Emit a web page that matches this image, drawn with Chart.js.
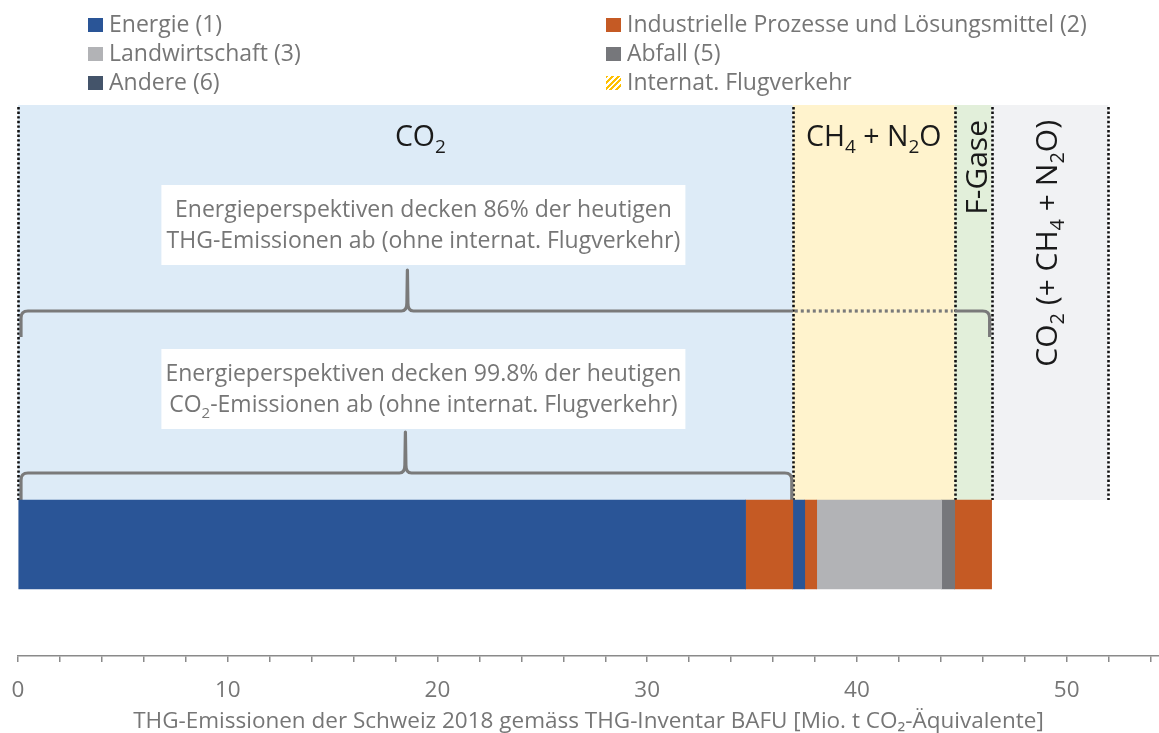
<!DOCTYPE html>
<html lang="de">
<head>
<meta charset="utf-8">
<title>THG-Emissionen der Schweiz 2018</title>
<script src="https://cdn.jsdelivr.net/npm/chart.js@4.4.1/dist/chart.umd.min.js"></script>
<style>
  body { margin: 0; background: #fff; }
  #wrap { position: relative; width: 1159px; height: 733px; }
  #legend {
    position: absolute; left: 88px; top: 9px;
    display: grid; grid-template-columns: 518px auto; grid-auto-rows: 29px;
    font-family: "Open Sans", sans-serif; font-size: 23px; line-height: 29px; color: #767676;
    white-space: nowrap;
  }
  #legend .box { display: inline-block; width: 15px; height: 14px; margin-right: 6px; }
</style>
</head>
<body>
<div id="wrap">
  <canvas id="thgChart" width="1159" height="733"></canvas>
  <div id="legend"></div>
</div>
<script>
const FONT = '"Open Sans", sans-serif';

// bar segments, left to right (Mio. t CO2-Aeq.)
const categories = ['THG 2018'];
const segmentSectors = ['Energie (1)', 'Industrielle Prozesse und Lösungsmittel (2)', 'Energie (1)',
    'Industrielle Prozesse und Lösungsmittel (2)', 'Landwirtschaft (3)', 'Abfall (5)',
    'Industrielle Prozesse und Lösungsmittel (2)'];
const segmentGases = ['CO_2', 'CO_2', 'CH_4 + N_2O', 'CH_4 + N_2O', 'CH_4 + N_2O', 'CH_4 + N_2O', 'F-Gase'];
const segmentValues = [34.69, 2.25, 0.57, 0.57, 5.96, 0.62, 1.76];
const aviationLabel = 'CO_2 (+ CH_4 + N_2O)';
const aviationValue = 5.56;

const legendLabels = ['Energie (1)', 'Industrielle Prozesse und Lösungsmittel (2)', 'Landwirtschaft (3)',
    'Abfall (5)', 'Andere (6)', 'Internat. Flugverkehr'];
const legendColors = ['#2A5597', '#C55A24', '#B2B3B6', '#76777B', '#44546A', 'hatch'];

const gasColors = { 'CO_2': '#DDEBF7', 'CH_4 + N_2O': '#FFF3CD', 'F-Gase': '#E2EFDA' };
const aviationColor = '#F1F2F4';

const notes = [
    ['Energieperspektiven decken 86% der heutigen', 'THG-Emissionen ab (ohne internat. Flugverkehr)'],
    ['Energieperspektiven decken 99.8% der heutigen', 'CO_2-Emissionen ab (ohne internat. Flugverkehr)']
];
const axisTitle = 'THG-Emissionen der Schweiz 2018 gemäss THG-Inventar BAFU [Mio. t CO₂-Äquivalente]';

// legend (two columns)
const legendEl = document.getElementById('legend');
legendLabels.forEach((lbl, i) => {
    const item = document.createElement('div');
    const box = document.createElement('span');
    box.className = 'box';
    box.style.background = legendColors[i] === 'hatch'
        ? 'repeating-linear-gradient(135deg, #FFC000 0 2px, #fff 2px 4px)'
        : legendColors[i];
    item.appendChild(box);
    item.appendChild(document.createTextNode(lbl));
    legendEl.appendChild(item);
});

// text with _n subscripts
function drawRich(ctx, text, x, y, size, align) {
    const parts = text.split(/_(\d)/).map((t, i) => ({ t, sub: i % 2 === 1 })).filter(p => p.t);
    const fontFor = p => (p.sub ? Math.round(size * 0.65) : size) + 'px ' + FONT;
    let w = 0;
    parts.forEach(p => { ctx.font = fontFor(p); p.w = ctx.measureText(p.t).width; w += p.w; });
    let cx = align === 'center' ? x - w / 2 : align === 'right' ? x - w : x;
    ctx.textAlign = 'left';
    ctx.textBaseline = 'alphabetic';
    parts.forEach(p => {
        ctx.font = fontFor(p);
        ctx.fillText(p.t, cx, y + (p.sub ? size * 0.25 : 0));
        cx += p.w;
    });
    return w;
}

function braceSide(ctx, xEnd, yEnd, yLine, dir) {
    // dir = 1 for left end, -1 for right end
    ctx.moveTo(xEnd, yEnd);
    ctx.lineTo(xEnd, yLine + 7);
    ctx.quadraticCurveTo(xEnd, yLine, xEnd + dir * 7, yLine);
}

function bracePeak(ctx, xp, yLine, yPeak) {
    ctx.lineTo(xp - 6, yLine);
    ctx.quadraticCurveTo(xp - 0.5, yLine, xp - 0.5, yLine - 8);
    ctx.lineTo(xp, yPeak);
    ctx.lineTo(xp + 0.5, yLine - 8);
    ctx.quadraticCurveTo(xp + 0.5, yLine, xp + 6, yLine);
}

const gasRegions = {
    id: 'gasRegions',
    beforeDatasetsDraw(chart) {
        const ctx = chart.ctx;
        const xs = chart.scales.x;
        const bar = chart.getDatasetMeta(0).data[0];
        const barTop = bar.y - bar.height / 2;
        const top = 105;

        // cumulative gas groups
        const groups = [];
        let acc = 0;
        segmentValues.forEach((v, i) => {
            const g = segmentGases[i];
            if (!groups.length || groups[groups.length - 1].gas !== g) groups.push({ gas: g, from: acc, to: acc });
            acc += v;
            groups[groups.length - 1].to = acc;
        });
        const total = acc;
        const aviation = { gas: aviationLabel, from: total, to: total + aviationValue };

        ctx.save();
        groups.forEach(g => {
            ctx.fillStyle = gasColors[g.gas];
            ctx.fillRect(xs.getPixelForValue(g.from), top, xs.getPixelForValue(g.to) - xs.getPixelForValue(g.from), barTop - top);
        });
        ctx.fillStyle = aviationColor;
        ctx.fillRect(xs.getPixelForValue(aviation.from), top, xs.getPixelForValue(aviation.to) - xs.getPixelForValue(aviation.from), barTop - top);

        // dotted separators
        ctx.strokeStyle = '#111';
        ctx.lineWidth = 2.6;
        ctx.setLineDash([2.4, 2.2]);
        [0, ...groups.map(g => g.to), aviation.to].forEach(v => {
            const px = Math.round(xs.getPixelForValue(v)) + 0.5;
            ctx.beginPath();
            ctx.moveTo(px, top + 2);
            ctx.lineTo(px, barTop);
            ctx.stroke();
        });
        ctx.setLineDash([]);

        const co2 = groups[0];
        const ch4 = groups[1];
        const x0 = xs.getPixelForValue(0) + 3;
        const xCo2 = xs.getPixelForValue(co2.to);
        const xCh4 = xs.getPixelForValue(ch4.to);
        const xTot = xs.getPixelForValue(total) - 2;
        const xMid = xs.getPixelForValue((co2.from + co2.to) / 2);

        // braces
        ctx.strokeStyle = '#7a7a7a';
        ctx.lineWidth = 3.2;
        ctx.lineJoin = 'round';
        // upper brace: all THG without CH4 + N2O gap
        ctx.beginPath();
        braceSide(ctx, x0, 337, 311, 1);
        bracePeak(ctx, xMid + 2, 311, 270);
        ctx.lineTo(xCo2, 311);
        ctx.stroke();
        ctx.beginPath();
        ctx.moveTo(xCh4, 311);
        ctx.lineTo(xTot - 7, 311);
        ctx.quadraticCurveTo(xTot, 311, xTot, 318);
        ctx.lineTo(xTot, 337);
        ctx.stroke();
        ctx.save();
        ctx.setLineDash([3, 3]);
        ctx.beginPath();
        ctx.moveTo(xCo2 + 2, 311);
        ctx.lineTo(xCh4 - 2, 311);
        ctx.stroke();
        ctx.restore();
        // lower brace: CO2
        ctx.beginPath();
        braceSide(ctx, x0, barTop, 473, 1);
        bracePeak(ctx, xMid, 473, 432);
        ctx.lineTo(xCo2 - 8, 473);
        ctx.quadraticCurveTo(xCo2 - 1, 473, xCo2 - 1, 480);
        ctx.lineTo(xCo2 - 1, barTop);
        ctx.stroke();

        // note boxes
        const boxTops = [185, 349];
        notes.forEach((lines, i) => {
            const cx = xMid + 18;
            ctx.fillStyle = '#fff';
            ctx.fillRect(cx - 262, boxTops[i], 524, 80);
            ctx.fillStyle = '#767676';
            lines.forEach((ln, j) => drawRich(ctx, ln, cx, boxTops[i] + 32 + j * 31, 23, 'center'));
        });

        // gas labels
        ctx.fillStyle = '#1a1a1a';
        drawRich(ctx, co2.gas, xMid + 15, 146, 28.5, 'center');
        drawRich(ctx, ch4.gas, (xCo2 + xCh4) / 2, 146, 28.5, 'center');
        [[groups[2], 14], [aviation, 7]].forEach(([g, shift]) => {
            const mid = (xs.getPixelForValue(g.from) + xs.getPixelForValue(g.to)) / 2;
            ctx.save();
            ctx.translate(mid + shift, 120);
            ctx.rotate(-Math.PI / 2);
            drawRich(ctx, g.gas, 0, 0, 30, 'right');
            ctx.restore();
        });
        ctx.restore();
    }
};

const sectorColor = {
    'Energie (1)': '#2A5597',
    'Industrielle Prozesse und Lösungsmittel (2)': '#C55A24',
    'Landwirtschaft (3)': '#B2B3B6',
    'Abfall (5)': '#76777B'
};

const datasets = segmentValues.map((v, i) => ({
    label: segmentSectors[i],
    data: [v],
    backgroundColor: sectorColor[segmentSectors[i]],
    borderWidth: 0,
    barThickness: 89
}));

new Chart(document.getElementById('thgChart'), {
    type: 'bar',
    data: { labels: categories, datasets: datasets },
    options: {
        indexAxis: 'y',
        responsive: false,
        animation: false,
        devicePixelRatio: 1,
        layout: { padding: { top: 433, left: 18, right: 0, bottom: 2 } },
        plugins: { legend: { display: false }, tooltip: { enabled: false } },
        scales: {
            x: {
                stacked: true,
                min: 0,
                max: 54.4,
                afterFit: scale => { scale.paddingLeft = 0; scale.paddingRight = 0; },
                grid: { drawOnChartArea: false, drawTicks: true, tickLength: 6, color: '#8a8a8a', lineWidth: 1.5 },
                border: { display: true, color: '#8a8a8a', width: 1.5 },
                ticks: {
                    stepSize: 2,
                    includeBounds: false,
                    autoSkip: false,
                    maxRotation: 0,
                    padding: 15,
                    color: '#767676',
                    font: { family: FONT, size: 22.5 },
                    callback: v => (v % 10 === 0 ? v : '')
                },
                title: {
                    display: true,
                    text: axisTitle,
                    color: '#767676',
                    font: { family: FONT, size: 22.5, lineHeight: 0.8 },
                    padding: { top: -6, bottom: 0 }
                }
            },
            y: { stacked: true, display: false }
        }
    },
    plugins: [gasRegions]
});
</script>
</body>
</html>
